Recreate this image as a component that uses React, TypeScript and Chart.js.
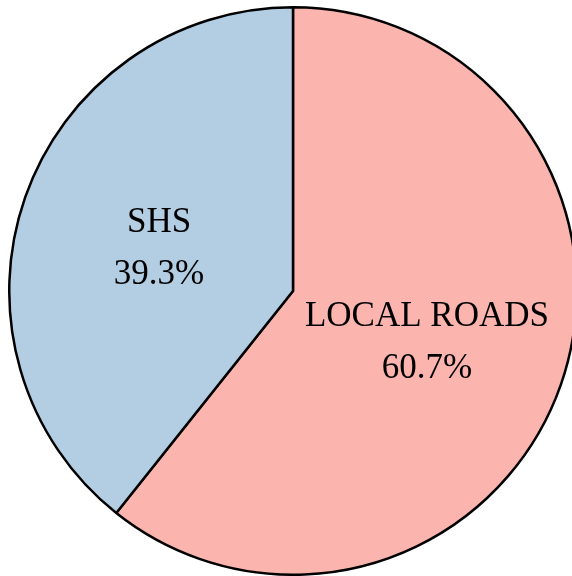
import React, { useEffect, useRef } from "react";
import { Chart, registerables } from "chart.js";

Chart.register(...registerables);

const categories = ["LOCAL ROADS", "SHS"];
const values = [60.7, 39.3];
const valueLabels = ["60.7%", "39.3%"];
const colors = ["#FBB4AE", "#B3CDE3"];

const labelPlugin = {
  id: "sliceLabels",
  afterDatasetsDraw(chart: any) {
    const meta = chart.getDatasetMeta(0);
    const ctx = chart.ctx;
    ctx.save();
    ctx.fillStyle = "#000";
    ctx.font = '35px "Liberation Serif", "Times New Roman", serif';
    ctx.textAlign = "center";
    ctx.textBaseline = "middle";
    meta.data.forEach((arc: any, i: number) => {
      const { x, y, startAngle, endAngle, outerRadius } = arc.getProps(
        ["x", "y", "startAngle", "endAngle", "outerRadius"],
        true
      );
      const mid = (startAngle + endAngle) / 2;
      const r = outerRadius * 0.5;
      const cx = x + Math.cos(mid) * r;
      const cy = y + Math.sin(mid) * r + 5;
      ctx.fillText(categories[i], cx, cy - 26);
      ctx.fillText(valueLabels[i], cx, cy + 26);
    });
    ctx.restore();
  },
};

export default function App() {
  const ref = useRef<HTMLCanvasElement>(null);
  useEffect(() => {
    if (!ref.current) return;
    const chart = new Chart(ref.current, {
      type: "pie",
      data: {
        labels: categories,
        datasets: [
          {
            data: values,
            backgroundColor: colors,
            borderColor: "#000",
            borderWidth: 2.5,
          },
        ],
      },
      options: {
        animation: false,
        responsive: false,
        maintainAspectRatio: false,
        layout: { padding: 0 },
        plugins: {
          legend: { display: false },
          tooltip: { enabled: false },
        },
      },
      plugins: [labelPlugin],
    });
    return () => chart.destroy();
  }, []);
  return (
    <div
      style={{
        position: "fixed",
        left: 0,
        top: 0,
        width: 572,
        height: 576,
        overflow: "hidden",
        background: "#fff",
      }}
    >
      <canvas
        ref={ref}
        width={570}
        height={570}
        style={{ position: "absolute", left: 8, top: 6, width: 570, height: 570 }}
      />
    </div>
  );
}
